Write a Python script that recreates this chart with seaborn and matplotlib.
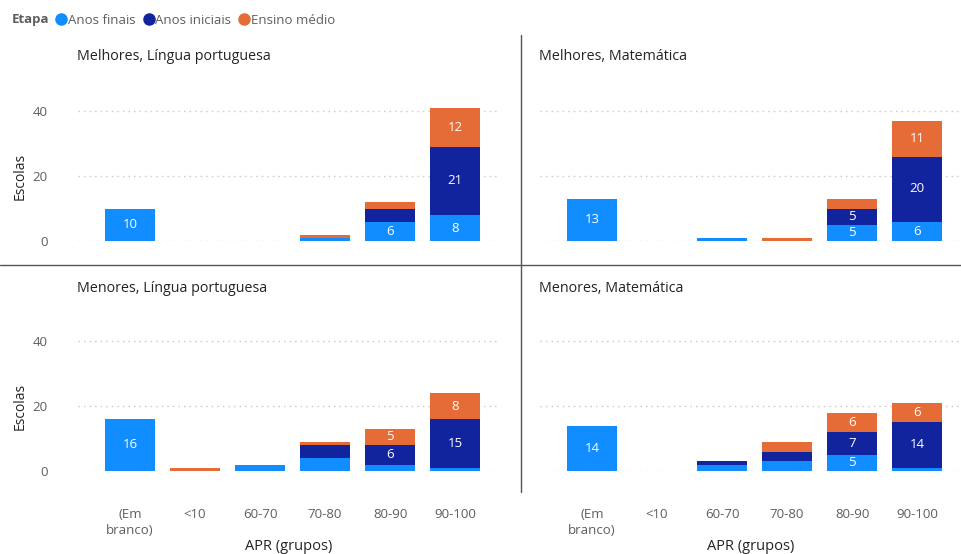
import numpy as np
import pandas as pd
import seaborn as sns
import matplotlib.pyplot as plt
from matplotlib.lines import Line2D

# data ##########################################################################
grupos = ["(Em\nbranco)", "<10", "60-70", "70-80", "80-90", "90-100"]
etapas = ["Anos finais", "Anos iniciais", "Ensino médio"]
cores = {"Anos finais": "#118DFF", "Anos iniciais": "#12239E", "Ensino médio": "#E66C37"}

paineis = ["Melhores, Língua portuguesa", "Melhores, Matemática",
           "Menores, Língua portuguesa", "Menores, Matemática"]

# values per group, one list per etapa
mel_lp_finais = [10, 0, 0, 1, 6, 8]
mel_lp_iniciais = [0, 0, 0, 0, 4, 21]
mel_lp_medio = [0, 0, 0, 1, 2, 12]

mel_mat_finais = [13, 0, 1, 0, 5, 6]
mel_mat_iniciais = [0, 0, 0, 0, 5, 20]
mel_mat_medio = [0, 0, 0, 1, 3, 11]

men_lp_finais = [16, 0, 2, 4, 2, 1]
men_lp_iniciais = [0, 0, 0, 4, 6, 15]
men_lp_medio = [0, 1, 0, 1, 5, 8]

men_mat_finais = [14, 0, 2, 3, 5, 1]
men_mat_iniciais = [0, 0, 1, 3, 7, 14]
men_mat_medio = [0, 0, 0, 3, 6, 6]

valores = {
    paineis[0]: [mel_lp_finais, mel_lp_iniciais, mel_lp_medio],
    paineis[1]: [mel_mat_finais, mel_mat_iniciais, mel_mat_medio],
    paineis[2]: [men_lp_finais, men_lp_iniciais, men_lp_medio],
    paineis[3]: [men_mat_finais, men_mat_iniciais, men_mat_medio],
}

yticks = [0, 20, 40]

# style #########################################################################
sns.set_theme(style="white")
plt.rcParams["font.family"] = ["Open Sans", "DejaVu Sans"]
cinza = "#605E5C"
escuro = "#252423"

W, H = 962, 554
fig = plt.figure(figsize=(W / 100, H / 100), dpi=100)

# axes positions in pixels: (left, bottom-of-zero-line)
pos = [(78, 241), (540, 241), (78, 471), (540, 471)]
ax_w, ax_h = 422, 149.5
titulo_y = [57, 57, 288, 288]

for i, nome in enumerate(paineis):
    px, py = pos[i]
    ax = fig.add_axes([px / W, (H - py) / H, ax_w / W, ax_h / H])

    df = pd.DataFrame({
        "grupo": np.repeat(grupos, len(etapas)),
        "etapa": etapas * len(grupos),
        "n": np.array(valores[nome]).T.ravel(),
    })
    sns.histplot(data=df, x="grupo", hue="etapa", weights="n", multiple="stack",
                 hue_order=etapas[::-1], palette=cores, shrink=0.77, alpha=1,
                 linewidth=0, legend=False, ax=ax)

    # white labels in segments >= 5
    for cont in ax.containers:
        labs = [f"{int(round(p.get_height()))}" if p.get_height() >= 5 else "" for p in cont]
        ax.bar_label(cont, labels=labs, label_type="center", color="white", fontsize=9.5)

    ax.set_xlim(-0.8, 5.69)
    ax.set_ylim(0, 46)
    ax.set_yticks(yticks)
    ax.set_xticks(range(len(grupos)))
    ax.yaxis.grid(True, linestyle=(0, (1, 3)), color="#C8C8C8", lw=1)
    ax.set_axisbelow(True)
    sns.despine(ax=ax, left=True, bottom=True)
    ax.set_xlabel("")
    ax.set_ylabel("")
    ax.tick_params(axis="both", length=0, colors=cinza, labelsize=9.5)
    ax.tick_params(axis="y", pad=22)
    ax.tick_params(axis="x", pad=27)

    if i % 2 == 1:
        ax.set_yticklabels([])
    else:
        fig.text(20 / W, 1 - (py - 65) / H, "Escolas", rotation=90, ha="center",
                 va="center", fontsize=10, color=escuro)
    if i < 2:
        ax.set_xticklabels([])
    else:
        ax.set_xticklabels(grupos, linespacing=1.3)
        fig.text((px + 211) / W, 1 - 546 / H, "APR (grupos)", ha="center",
                 va="center", fontsize=10.5, color=escuro)

    fig.text((px - 1) / W, 1 - titulo_y[i] / H, nome, ha="left", va="center",
             fontsize=10.3, color=escuro)

# divider lines ##################################################################
fig.add_artist(Line2D([521 / W, 521 / W], [1 - 35 / H, 1 - 492 / H],
                      transform=fig.transFigure, color="#555555", lw=1))
fig.add_artist(Line2D([0, 1], [1 - 265 / H, 1 - 265 / H],
                      transform=fig.transFigure, color="#555555", lw=1))

# legend #########################################################################
fig.text(12 / W, 1 - 20 / H, "Etapa", fontweight="bold", fontsize=9.5,
         color=cinza, ha="left", va="center")
handles = [Line2D([], [], marker="o", ls="", color=cores[e], markersize=8) for e in etapas]
fig.legend(handles, etapas, loc="center left", bbox_to_anchor=(56 / W, 1 - 20 / H),
           ncol=3, frameon=False, handlelength=0.8, handletextpad=0.1,
           columnspacing=0.6, borderpad=0, borderaxespad=0, fontsize=9.5,
           labelcolor=cinza)

fig.savefig("out.png", dpi=100)
